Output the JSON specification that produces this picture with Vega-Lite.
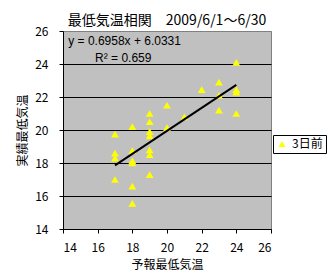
{
  "$schema": "https://vega.github.io/schema/vega-lite/v6.json",
  "width": 208,
  "height": 198,
  "autosize": {"type": "none"},
  "padding": {"left": 63, "top": 31, "right": 61, "bottom": 50},
  "background": "white",
  "title": {
    "text": "最低気温相関　2009/6/1～6/30",
    "font": "Noto Sans CJK JP",
    "fontSize": 14,
    "fontWeight": "normal",
    "color": "black",
    "anchor": "middle",
    "frame": "group",
    "offset": -3
  },
  "datasets": {
    "obs": [
      {"forecast": 17, "actual": 19.75, "series": "3日前"},
      {"forecast": 17, "actual": 18.6, "series": "3日前"},
      {"forecast": 17, "actual": 18.3, "series": "3日前"},
      {"forecast": 17, "actual": 17.0, "series": "3日前"},
      {"forecast": 18, "actual": 20.2, "series": "3日前"},
      {"forecast": 18, "actual": 18.75, "series": "3日前"},
      {"forecast": 18, "actual": 18.15, "series": "3日前"},
      {"forecast": 18, "actual": 18.0, "series": "3日前"},
      {"forecast": 18, "actual": 16.6, "series": "3日前"},
      {"forecast": 18, "actual": 15.55, "series": "3日前"},
      {"forecast": 19, "actual": 21.0, "series": "3日前"},
      {"forecast": 19, "actual": 20.5, "series": "3日前"},
      {"forecast": 19, "actual": 19.9, "series": "3日前"},
      {"forecast": 19, "actual": 19.65, "series": "3日前"},
      {"forecast": 19, "actual": 18.8, "series": "3日前"},
      {"forecast": 19, "actual": 18.5, "series": "3日前"},
      {"forecast": 19, "actual": 17.3, "series": "3日前"},
      {"forecast": 20, "actual": 21.5, "series": "3日前"},
      {"forecast": 20, "actual": 20.15, "series": "3日前"},
      {"forecast": 21, "actual": 20.8, "series": "3日前"},
      {"forecast": 22, "actual": 22.45, "series": "3日前"},
      {"forecast": 23, "actual": 22.9, "series": "3日前"},
      {"forecast": 23, "actual": 22.1, "series": "3日前"},
      {"forecast": 23, "actual": 21.2, "series": "3日前"},
      {"forecast": 24, "actual": 24.1, "series": "3日前"},
      {"forecast": 24, "actual": 22.45, "series": "3日前"},
      {"forecast": 24, "actual": 22.3, "series": "3日前"},
      {"forecast": 24, "actual": 21.0, "series": "3日前"}
    ],
    "trend": [
      {"forecast": 17, "actual": 17.86},
      {"forecast": 24, "actual": 22.73}
    ]
  },
  "config": {
    "font": "Noto Sans CJK JP",
    "view": {"fill": "#C0C0C0", "stroke": "#808080", "strokeWidth": 1},
    "axis": {
      "labelFont": "Noto Sans CJK JP",
      "labelFontSize": 12,
      "labelColor": "black",
      "labelOverlap": false,
      "titleFont": "Noto Sans CJK JP",
      "titleFontSize": 12,
      "titleFontWeight": "normal",
      "titleColor": "black",
      "domainColor": "black",
      "tickColor": "black",
      "tickSize": 4
    }
  },
  "encoding": {
    "x": {
      "field": "forecast",
      "type": "quantitative",
      "title": "予報最低気温",
      "scale": {"domain": [14, 26], "nice": false, "zero": false},
      "axis": {
        "values": [14, 16, 18, 20, 22, 24, 26],
        "grid": false,
        "labelPadding": 9,
        "titlePadding": 6
      }
    },
    "y": {
      "field": "actual",
      "type": "quantitative",
      "title": "実績最低気温",
      "scale": {"domain": [14, 26], "nice": false, "zero": false},
      "axis": {
        "values": [14, 16, 18, 20, 22, 24, 26],
        "grid": true,
        "gridColor": {"condition": {"test": "datum.value == 26", "value": "#808080"}, "value": "black"},
        "gridOpacity": 1,
        "gridWidth": 1,
        "labelPadding": 11,
        "titlePadding": 5
      }
    }
  },
  "layer": [
    {
      "data": {"name": "obs"},
      "mark": {"type": "point", "filled": true, "opacity": 1, "size": 60, "strokeWidth": 0},
      "encoding": {
        "color": {
          "field": "series",
          "type": "nominal",
          "scale": {"range": ["#FFFF00"]},
          "legend": {
            "title": null,
            "orient": "none",
            "legendX": 210,
            "legendY": 104,
            "strokeColor": "black",
            "fillColor": "white",
            "padding": 3,
            "labelFontSize": 12,
            "labelFont": "Noto Sans CJK JP",
            "labelColor": "black",
            "symbolSize": 50,
            "symbolStrokeWidth": 0
          }
        },
        "shape": {
          "field": "series",
          "type": "nominal",
          "scale": {"range": ["triangle-up"]}
        }
      }
    },
    {
      "data": {"name": "trend"},
      "mark": {"type": "line", "color": "black", "strokeWidth": 2}
    },
    {
      "data": {"values": [{"forecast": 14.3, "actual": 25.37}]},
      "mark": {"type": "text", "text": "y = 0.6958x + 6.0331", "font": "Liberation Sans", "align": "left", "baseline": "middle", "fontSize": 12, "color": "black"}
    },
    {
      "data": {"values": [{"forecast": 15.85, "actual": 24.38}]},
      "mark": {"type": "text", "text": "R² = 0.659", "font": "Liberation Sans", "align": "left", "baseline": "middle", "fontSize": 12, "color": "black"}
    }
  ]
}
